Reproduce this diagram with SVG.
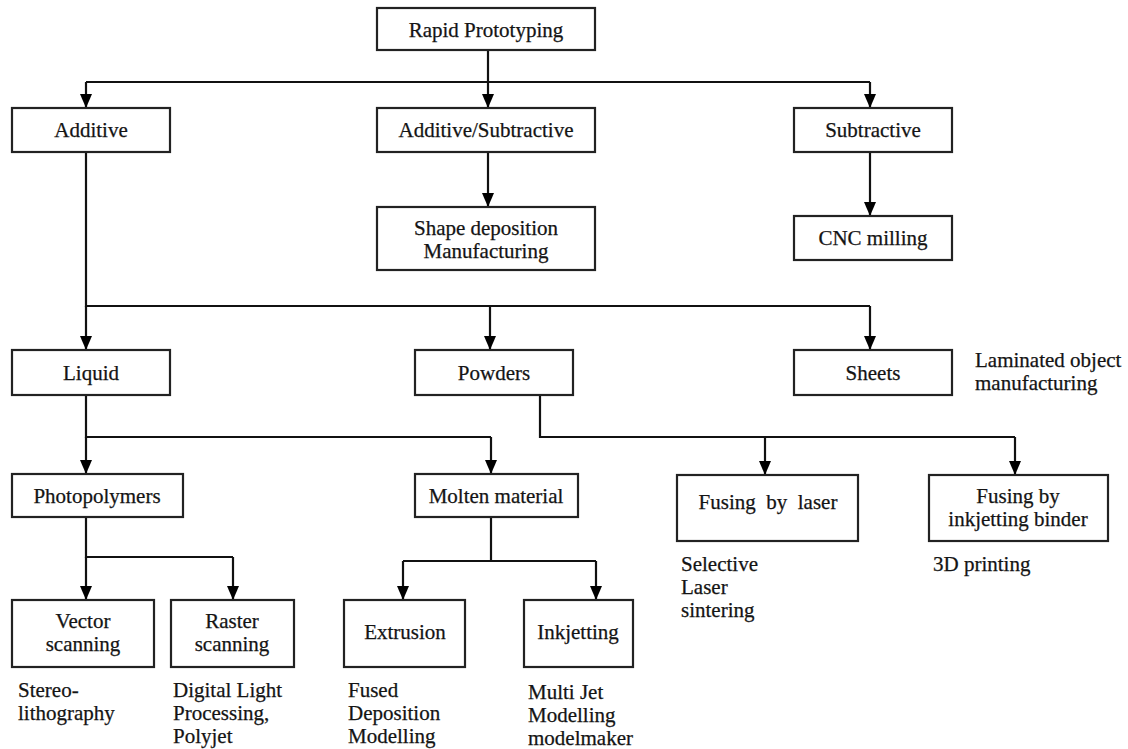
<svg xmlns="http://www.w3.org/2000/svg" width="1128" height="749" viewBox="0 0 1128 749">
<defs>
<marker id="ah" viewBox="0 0 14 12" refX="14" refY="6" markerWidth="14" markerHeight="12" markerUnits="userSpaceOnUse" orient="auto">
<path d="M0,0 L14,6 L0,12 Z" fill="#000"/>
</marker>
</defs>
<style>
rect{fill:#fff;stroke:#222;stroke-width:2.2}
text{font-family:"Liberation Serif","Times New Roman",serif;font-size:21px;fill:#141414;stroke:#141414;stroke-width:0.25;white-space:pre}
.c{text-anchor:middle}
.ln{fill:none;stroke:#111;stroke-width:2.2}
.ar{fill:none;stroke:#111;stroke-width:2.2;marker-end:url(#ah)}
</style>
<rect width="1128" height="749" style="fill:#fff;stroke:none"/>
<g id="connectors">
<path class="ln" d="M86,82 H870"/>
<path class="ar" d="M488,50 V108"/>
<path class="ar" d="M86,82 V108"/>
<path class="ar" d="M870,82 V108"/>
<path class="ar" d="M488,152 V207"/>
<path class="ar" d="M870,152 V216"/>
<path class="ln" d="M86,152 V306 H870"/>
<path class="ar" d="M86,306 V350"/>
<path class="ar" d="M490,306 V350"/>
<path class="ar" d="M870,306 V350"/>
<path class="ln" d="M86,395 V437 H491"/>
<path class="ar" d="M86,437 V474"/>
<path class="ar" d="M491,437 V474"/>
<path class="ln" d="M540,395 V437 H1015"/>
<path class="ar" d="M765,437 V475"/>
<path class="ar" d="M1015,437 V475"/>
<path class="ln" d="M86,517 V557 H233"/>
<path class="ar" d="M86,557 V600"/>
<path class="ar" d="M233,557 V600"/>
<path class="ln" d="M491,517 V561"/>
<path class="ln" d="M403,561 H596"/>
<path class="ar" d="M403,561 V600"/>
<path class="ar" d="M596,561 V600"/>
</g>
<g id="n-rapid"><rect x="377" y="8" width="218" height="42"/><text class="c" x="486" y="37">Rapid Prototyping</text></g>
<g id="n-additive"><rect x="12" y="108" width="158" height="44"/><text class="c" x="91" y="137">Additive</text></g>
<g id="n-addsub"><rect x="377" y="108" width="218" height="44"/><text class="c" x="486" y="137">Additive/Subtractive</text></g>
<g id="n-subtractive"><rect x="794" y="108" width="158" height="44"/><text class="c" x="873" y="137">Subtractive</text></g>
<g id="n-shape"><rect x="377" y="207" width="218" height="63"/><text class="c" x="486" y="235">Shape deposition</text><text class="c" x="486" y="258">Manufacturing</text></g>
<g id="n-cnc"><rect x="794" y="216" width="158" height="44"/><text class="c" x="873" y="245">CNC milling</text></g>
<g id="n-liquid"><rect x="12" y="350" width="158" height="45"/><text class="c" x="91" y="380">Liquid</text></g>
<g id="n-powders"><rect x="415" y="350" width="158" height="45"/><text class="c" x="494" y="380">Powders</text></g>
<g id="n-sheets"><rect x="794" y="350" width="158" height="45"/><text class="c" x="873" y="380">Sheets</text></g>
<g id="t-lom"><text x="975" y="367">Laminated object</text><text x="975" y="390">manufacturing</text></g>
<g id="n-photo"><rect x="12" y="474" width="171" height="43"/><text class="c" x="97" y="503">Photopolymers</text></g>
<g id="n-molten"><rect x="415" y="474" width="163" height="43"/><text class="c" x="496" y="503">Molten material</text></g>
<g id="n-laser"><rect x="677" y="475" width="181" height="66"/><text class="c" x="768" y="509">Fusing  by  laser</text></g>
<g id="n-inkbinder"><rect x="929" y="475" width="179" height="66"/><text class="c" x="1018" y="503">Fusing by</text><text class="c" x="1018" y="526">inkjetting binder</text></g>
<g id="t-sls"><text x="681" y="571">Selective</text><text x="681" y="594">Laser</text><text x="681" y="617">sintering</text></g>
<g id="t-3dp"><text x="933" y="571">3D printing</text></g>
<g id="n-vector"><rect x="12" y="600" width="142" height="67"/><text class="c" x="83" y="628">Vector</text><text class="c" x="83" y="651">scanning</text></g>
<g id="n-raster"><rect x="171" y="600" width="123" height="67"/><text class="c" x="232" y="628">Raster</text><text class="c" x="232" y="651">scanning</text></g>
<g id="n-extrusion"><rect x="344" y="600" width="121" height="67"/><text class="c" x="405" y="639">Extrusion</text></g>
<g id="n-inkjetting"><rect x="524" y="600" width="109" height="67"/><text class="c" x="578" y="639">Inkjetting</text></g>
<g id="t-sla"><text x="18" y="697">Stereo-</text><text x="18" y="720">lithography</text></g>
<g id="t-dlp"><text x="173" y="697">Digital Light</text><text x="173" y="720">Processing,</text><text x="173" y="743">Polyjet</text></g>
<g id="t-fdm"><text x="348" y="697">Fused</text><text x="348" y="720">Deposition</text><text x="348" y="743">Modelling</text></g>
<g id="t-mjm"><text x="528" y="699">Multi Jet</text><text x="528" y="722">Modelling</text><text x="528" y="745">modelmaker</text></g>
</svg>
